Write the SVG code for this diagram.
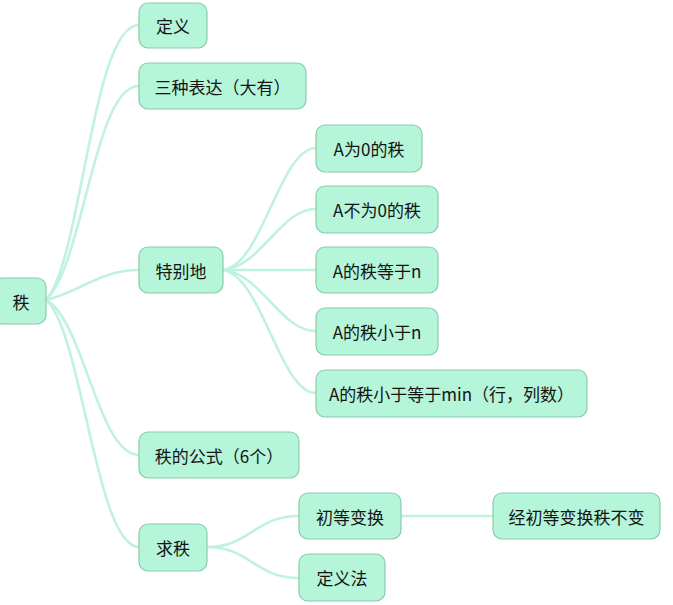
<svg xmlns="http://www.w3.org/2000/svg" width="673" height="605" viewBox="0 0 673 605">
  <style>
    .box { fill: #b5f5da; stroke: #8ccaa9; stroke-width: 1.2; }
    .lbl { font-family: "Noto Sans CJK SC", "Noto Sans", sans-serif; font-size: 17px; fill: #141414; text-anchor: middle; dominant-baseline: central; }
    .link { fill: none; stroke: #c0f3dd; stroke-width: 2.6; stroke-linecap: round; }
  </style>
  <rect width="673" height="605" fill="#ffffff"/>

  <!-- connectors -->
  <g id="connectors">
    <!-- root to level one -->
    <path class="link" d="M46,300 C82,260 92,25 139,25"/>
    <path class="link" d="M46,300 C84,264 94,86 139,86"/>
    <path class="link" d="M46,300 C80,292 100,270 139,270"/>
    <path class="link" d="M46,300 C84,320 98,455 139,455"/>
    <path class="link" d="M46,300 C82,330 96,547 139,547"/>
    <!-- 特别地 to its items -->
    <path class="link" d="M223,270 C262,266 280,148 316,148"/>
    <path class="link" d="M223,270 C262,266 280,209 316,209"/>
    <path class="link" d="M223,270 L316,270"/>
    <path class="link" d="M223,270 C262,274 280,331 316,331"/>
    <path class="link" d="M223,270 C262,276 280,393 316,393"/>
    <!-- 求秩 to its items -->
    <path class="link" d="M207,547 C250,547 255,516 299,516"/>
    <path class="link" d="M207,547 C250,547 255,578 299,578"/>
    <path class="link" d="M401,516 L493,516"/>
  </g>

  <g id="n-root">
    <rect class="box" x="-6" y="278" width="52" height="46" rx="9"/>
    <text class="lbl" x="21" y="301">秩</text>
  </g>
  <g id="n-def">
    <rect class="box" x="139" y="3" width="68" height="45" rx="9"/>
    <text class="lbl" x="173" y="25.5">定义</text>
  </g>
  <g id="n-three">
    <rect class="box" x="139" y="63" width="167" height="46" rx="9"/>
    <text class="lbl" x="222.5" y="86">三种表达（大有）</text>
  </g>
  <g id="n-special">
    <rect class="box" x="139" y="247" width="84" height="46" rx="9"/>
    <text class="lbl" x="181" y="270">特别地</text>
  </g>
  <g id="n-zero">
    <rect class="box" x="316" y="125" width="106" height="47" rx="9"/>
    <text class="lbl" x="369" y="148.5">A为0的秩</text>
  </g>
  <g id="n-nonzero">
    <rect class="box" x="316" y="186" width="122" height="47" rx="9"/>
    <text class="lbl" x="377" y="209.5">A不为0的秩</text>
  </g>
  <g id="n-eqn">
    <rect class="box" x="316" y="247" width="122" height="46" rx="9"/>
    <text class="lbl" x="377" y="270">A的秩等于n</text>
  </g>
  <g id="n-ltn">
    <rect class="box" x="316" y="308" width="122" height="47" rx="9"/>
    <text class="lbl" x="377" y="331.5">A的秩小于n</text>
  </g>
  <g id="n-min">
    <rect class="box" x="316" y="370" width="271" height="47" rx="9"/>
    <text class="lbl" x="451.5" y="393.5">A的秩小于等于min（行，列数）</text>
  </g>
  <g id="n-formula">
    <rect class="box" x="139" y="432" width="160" height="46" rx="9"/>
    <text class="lbl" x="219" y="455">秩的公式（6个）</text>
  </g>
  <g id="n-find">
    <rect class="box" x="139" y="524" width="68" height="47" rx="9"/>
    <text class="lbl" x="173" y="547.5">求秩</text>
  </g>
  <g id="n-elem">
    <rect class="box" x="299" y="493" width="102" height="46" rx="9"/>
    <text class="lbl" x="350" y="516">初等变换</text>
  </g>
  <g id="n-defmethod">
    <rect class="box" x="299" y="554" width="86" height="47" rx="9"/>
    <text class="lbl" x="342" y="577.5">定义法</text>
  </g>
  <g id="n-invariant">
    <rect class="box" x="493" y="493" width="167" height="46" rx="9"/>
    <text class="lbl" x="576.5" y="516">经初等变换秩不变</text>
  </g>
</svg>
